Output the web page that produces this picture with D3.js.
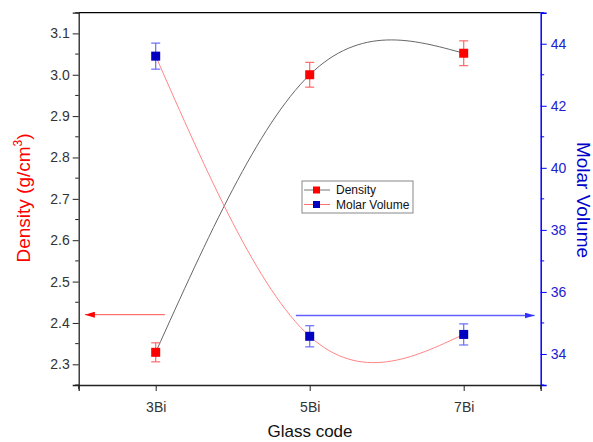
<!DOCTYPE html>
<html><head><meta charset="utf-8">
<script src="https://cdn.jsdelivr.net/npm/d3@7"></script>
<style>body{margin:0;background:#fff;} svg{display:block;font-family:"Liberation Sans",Arial,sans-serif;}</style>
</head><body>
<svg id="c" width="593" height="442"></svg>
<script>
const categories = ["3Bi","5Bi","7Bi"];
const density = [2.329, 3.0, 3.052];
const densityErr = [0.023, 0.03, 0.03];
const molarVolume = [43.6, 34.57, 34.63];
const molarErr = [0.42, 0.34, 0.34];
const leftTicks = [2.3,2.4,2.5,2.6,2.7,2.8,2.9,3.0,3.1];
const rightTicks = [34,36,38,40,42,44];
const densityArrowValue = 2.42;
const molarArrowValue = 35.24;

const svg = d3.select("#c");
const L = 78.7, R = 540.7, T = 12.7, B = 385;
const x = d3.scaleLinear().domain([0.5, 3.5]).range([L, R]);
const yL = d3.scaleLinear().domain([2.25, 3.15]).range([B, T]);
const yR = d3.scaleLinear().domain([33, 45]).range([B, T]);
const xi = i => x(i + 1);
const FONT = "Liberation Sans, Arial, sans-serif";

// frame top
svg.append("line").attr("x1",L).attr("x2",R).attr("y1",T).attr("y2",T).attr("stroke","#000").attr("stroke-width",1.3);

// left axis
const la = svg.append("g").attr("transform",`translate(${L},0)`)
  .call(d3.axisLeft(yL).tickValues(leftTicks).tickFormat(d3.format(".1f")).tickSize(6).tickPadding(3));
la.select(".domain").attr("stroke","#222").attr("stroke-width",1.3);
la.selectAll(".tick line").attr("stroke","#222");
la.selectAll("text").attr("fill","#333").attr("font-size","14px").attr("font-family",FONT);
const leftMinor = d3.range(2.25, 3.151, 0.05).filter(v => !leftTicks.some(t => Math.abs(t - v) < 1e-6));
svg.append("g").selectAll("line").data(leftMinor).join("line")
  .attr("x1",L-3.5).attr("x2",L).attr("y1",d=>yL(d)).attr("y2",d=>yL(d)).attr("stroke","#222");

// right axis
const ra = svg.append("g").attr("transform",`translate(${R},0)`)
  .call(d3.axisRight(yR).tickValues(rightTicks).tickSize(6).tickPadding(4));
ra.select(".domain").attr("stroke","#0000ff").attr("stroke-width",1.5);
ra.selectAll(".tick line").attr("stroke","#0000ff");
ra.selectAll("text").attr("fill","#2020d0").attr("font-size","14px").attr("font-family",FONT);
const rightMinor = [33,35,37,39,41,43,45];
svg.append("g").selectAll("line").data(rightMinor).join("line")
  .attr("x1",R).attr("x2",R+3.5).attr("y1",d=>yR(d)).attr("y2",d=>yR(d)).attr("stroke","#0000ff");

// bottom axis
const ba = svg.append("g").attr("transform",`translate(0,${B})`)
  .call(d3.axisBottom(x).tickValues([1,2,3]).tickFormat((d,i)=>categories[i]).tickSize(6).tickPadding(11));
ba.select(".domain").attr("stroke","#222").attr("stroke-width",1.3);
ba.selectAll(".tick line").attr("stroke","#222");
ba.selectAll("text").attr("fill","#333").attr("font-size","14px").attr("font-family",FONT);
svg.append("g").selectAll("line").data([0.5,3.5]).join("line")
  .attr("x1",d=>x(d)).attr("x2",d=>x(d)).attr("y1",B).attr("y2",B+4).attr("stroke","#222");

// axis titles
const tl = svg.append("text").attr("transform",`translate(30,198) rotate(-90)`).attr("text-anchor","middle")
  .attr("fill","#ff0000").attr("font-size","19px");
tl.append("tspan").text("Density (g/cm");
tl.append("tspan").attr("font-size","12px").attr("dy","-8").text("3");
tl.append("tspan").attr("dy","8").text(")");
svg.append("text").attr("transform",`translate(577,200) rotate(90)`).attr("text-anchor","middle")
  .attr("fill","#0000cc").attr("font-size","19px").text("Molar Volume");
svg.append("text").attr("x",310).attr("y",437).attr("text-anchor","middle").attr("fill","#111").attr("font-size","17px").text("Glass code");

// curves
const lineD = d3.line().x((d,i)=>xi(i)).y(d=>yL(d)).curve(d3.curveNatural);
const lineM = d3.line().x((d,i)=>xi(i)).y(d=>yR(d)).curve(d3.curveNatural);
svg.append("path").attr("d",lineD(density)).attr("fill","none").attr("stroke","#666").attr("stroke-width",1);
svg.append("path").attr("d",lineM(molarVolume)).attr("fill","none").attr("stroke","#ff8585").attr("stroke-width",1);

// arrows
const defs = svg.append("defs");
defs.append("marker").attr("id","ar").attr("viewBox","0 0 10 6").attr("refX",10).attr("refY",3)
  .attr("markerWidth",10).attr("markerHeight",6).attr("markerUnits","userSpaceOnUse").attr("orient","auto")
  .append("path").attr("d","M0,0L10,3L0,6Z").attr("fill","#ff0000");
defs.append("marker").attr("id","ab").attr("viewBox","0 0 10 6").attr("refX",10).attr("refY",3)
  .attr("markerWidth",10).attr("markerHeight",6).attr("markerUnits","userSpaceOnUse").attr("orient","auto")
  .append("path").attr("d","M0,0L10,3L0,6Z").attr("fill","#3030ff");
svg.append("line").attr("x1",x(1.06)).attr("x2",x(0.54)).attr("y1",yL(densityArrowValue)).attr("y2",yL(densityArrowValue))
  .attr("stroke","#ff5050").attr("stroke-width",1).attr("marker-end","url(#ar)");
svg.append("line").attr("x1",x(1.91)).attr("x2",x(3.46)).attr("y1",yR(molarArrowValue)).attr("y2",yR(molarArrowValue))
  .attr("stroke","#6060ff").attr("stroke-width",1.5).attr("marker-end","url(#ab)");

// error bars + squares
function drawSeries(vals, errs, y, barColor, fill) {
  const g = svg.append("g");
  vals.forEach((v,i)=>{
    const cx = xi(i), y1 = y(v+errs[i]), y2 = y(v-errs[i]);
    g.append("line").attr("x1",cx).attr("x2",cx).attr("y1",y1).attr("y2",y2).attr("stroke",barColor).attr("stroke-width",1.2);
    g.append("line").attr("x1",cx-4.5).attr("x2",cx+4.5).attr("y1",y1).attr("y2",y1).attr("stroke",barColor).attr("stroke-width",1.2);
    g.append("line").attr("x1",cx-4.5).attr("x2",cx+4.5).attr("y1",y2).attr("y2",y2).attr("stroke",barColor).attr("stroke-width",1.2);
    g.append("rect").attr("x",cx-4.5).attr("y",y(v)-4.5).attr("width",9).attr("height",9).attr("fill",fill);
  });
}
drawSeries(density, densityErr, yL, "#ff6a6a", "#ff0000");
drawSeries(molarVolume, molarErr, yR, "#6a6aff", "#0000c0");

// legend
const lg = svg.append("g").attr("transform","translate(302,181)");
lg.append("rect").attr("width",111).attr("height",32).attr("fill","#fff").attr("stroke","#888").attr("stroke-width",1);
const items = [{name:"Density", line:"#777", sq:"#ff0000"},{name:"Molar Volume", line:"#ff7070", sq:"#0000c0"}];
items.forEach((it,i)=>{
  const yy = 9 + i*14.5;
  lg.append("line").attr("x1",2).attr("x2",28).attr("y1",yy).attr("y2",yy).attr("stroke",it.line);
  lg.append("rect").attr("x",11).attr("y",yy-3.5).attr("width",7).attr("height",7).attr("fill",it.sq);
  lg.append("text").attr("x",34).attr("y",yy+4).attr("font-size","12px").attr("fill","#111").text(it.name);
});
</script>
</body></html>
